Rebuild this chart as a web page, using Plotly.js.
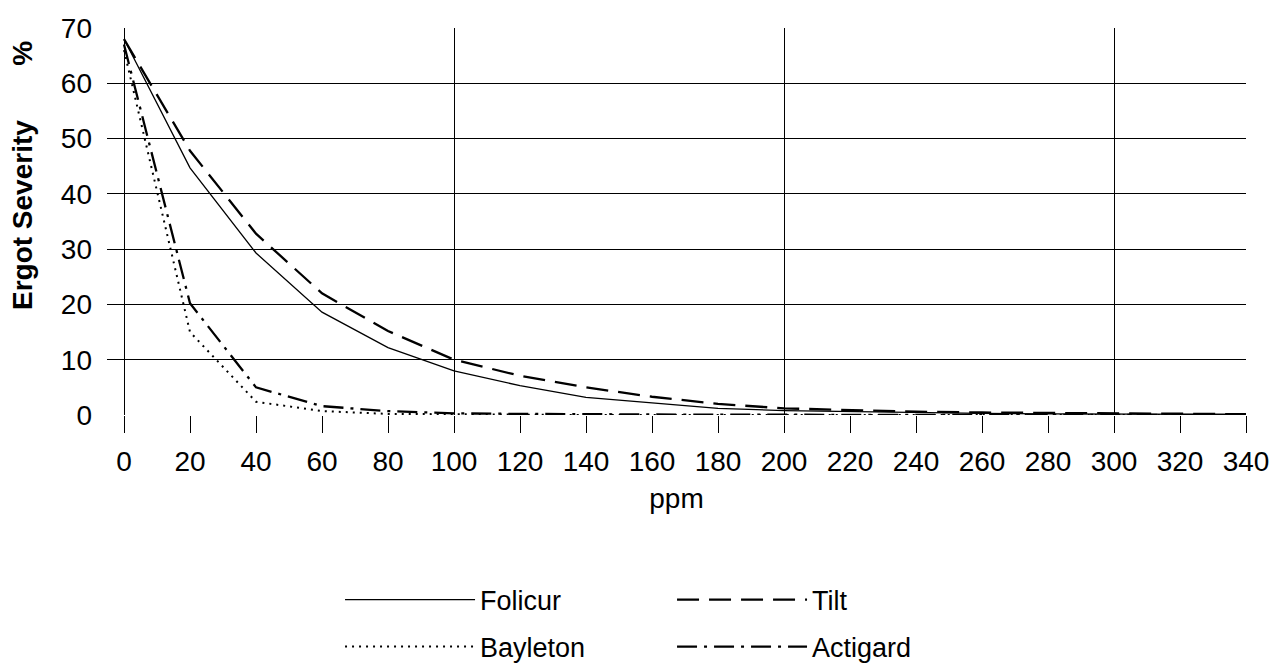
<!DOCTYPE html>
<html>
<head>
<meta charset="utf-8">
<script src="https://cdn.plot.ly/plotly-3.0.1.min.js"></script>
<style>html,body{margin:0;padding:0;background:#fff;}#chart{width:1275px;height:665px;}</style>
</head>
<body>
<div id="chart"></div>
<script>
const ppm = [0, 20, 40, 60, 80, 100, 120, 140, 160, 180, 200, 220, 240, 260, 280, 300, 320, 340];
const folicur  = [68, 44.7, 29.3, 18.6, 12.2, 8.0, 5.3, 3.2, 2.2, 1.2, 0.8, 0.6, 0.4, 0.3, 0.2, 0.15, 0.1, 0.1];
const tilt     = [68, 47.8, 32.8, 22.0, 15.2, 10.0, 7.1, 5.0, 3.3, 2.0, 1.2, 0.9, 0.6, 0.45, 0.35, 0.25, 0.2, 0.15];
const bayleton = [66, 15.0, 2.4, 0.7, 0.2, 0.1, 0.05, 0, 0, 0, 0, 0, 0, 0, 0, 0, 0, 0];
const actigard = [67, 20.2, 5.0, 1.6, 0.7, 0.3, 0.2, 0.1, 0.1, 0.05, 0.05, 0, 0, 0, 0, 0, 0, 0];
const seriesNames = ['Folicur', 'Tilt', 'Bayleton', 'Actigard'];
const yTickVals = [0, 10, 20, 30, 40, 50, 60, 70];
const xMajorGrid = [0, 100, 200, 300];

const FONT = 'Arial, "Liberation Sans", sans-serif';

const traces = [
  {x: ppm, y: folicur, name: seriesNames[0], type: 'scatter', mode: 'lines', xaxis: 'x2', yaxis: 'y',
   legend: 'legend', line: {color: '#000', width: 1.3, dash: 'solid'}},
  {x: ppm, y: tilt, name: seriesNames[1], type: 'scatter', mode: 'lines', legend: 'legend',
   line: {color: '#000', width: 2.3, dash: '22px,10px'}},
  {x: ppm, y: bayleton, name: seriesNames[2], type: 'scatter', mode: 'lines', legend: 'legend2',
   line: {color: '#000', width: 2, dash: '2px,5px'}},
  {x: ppm, y: actigard, name: seriesNames[3], type: 'scatter', mode: 'lines', legend: 'legend2',
   line: {color: '#000', width: 2.3, dash: '20px,7px,3px,7px'}}
];

const xr = [-5.15, 340];
const legendCommon = {
  orientation: 'h', xref: 'paper', yref: 'paper',
  x: 0.2046, xanchor: 'left', yanchor: 'middle',
  font: {family: FONT, size: 27, color: '#000'},
  entrywidth: 187, entrywidthmode: 'pixels', itemwidth: 130,
  traceorder: 'normal', bgcolor: 'rgba(0,0,0,0)'
};
const layout = {
  width: 1275, height: 665,
  margin: {l: 107, r: 29, t: 28, b: 250, autoexpand: false},
  paper_bgcolor: '#fff', plot_bgcolor: '#fff',
  font: {family: FONT, color: '#000'},
  showlegend: true,
  xaxis: {
    range: xr, dtick: 20, tick0: 0, ticks: 'outside', ticklen: 17, tickwidth: 1, tickcolor: '#000',
    showgrid: false, zeroline: false, showline: false,
    tickfont: {family: FONT, size: 28, color: '#000'},
    ticklabelstandoff: 4,
    title: {text: 'ppm', font: {family: FONT, size: 28, color: '#000'}, standoff: 12}
  },
  xaxis2: {
    range: xr, overlaying: 'x', anchor: 'y', side: 'bottom',
    tickvals: xMajorGrid, showticklabels: false, ticks: '',
    showgrid: true, gridcolor: '#000', gridwidth: 1, zeroline: false, showline: false
  },
  yaxis: {
    range: [0, 70], tickvals: yTickVals, ticks: '', showgrid: true, gridcolor: '#000', gridwidth: 1,
    zeroline: false, showline: false,
    tickfont: {family: FONT, size: 28, color: '#000'},
    ticklabelstandoff: 14
  },
  legend: Object.assign({}, legendCommon, {y: -0.478}),
  legend2: Object.assign({}, legendCommon, {y: -0.5995}),
  annotations: [{
    text: 'Ergot Severity\u00a0\u00a0\u00a0\u00a0\u00a0\u00a0\u00a0%', xref: 'paper', yref: 'paper',
    x: -0.0737, y: 0.6176, xanchor: 'center', yanchor: 'middle', textangle: -90, showarrow: false,
    font: {family: FONT, size: 28, color: '#000', weight: 'bold'}
  }]
};

Plotly.newPlot('chart', traces, layout, {displayModeBar: false, staticPlot: true});
</script>
</body>
</html>
